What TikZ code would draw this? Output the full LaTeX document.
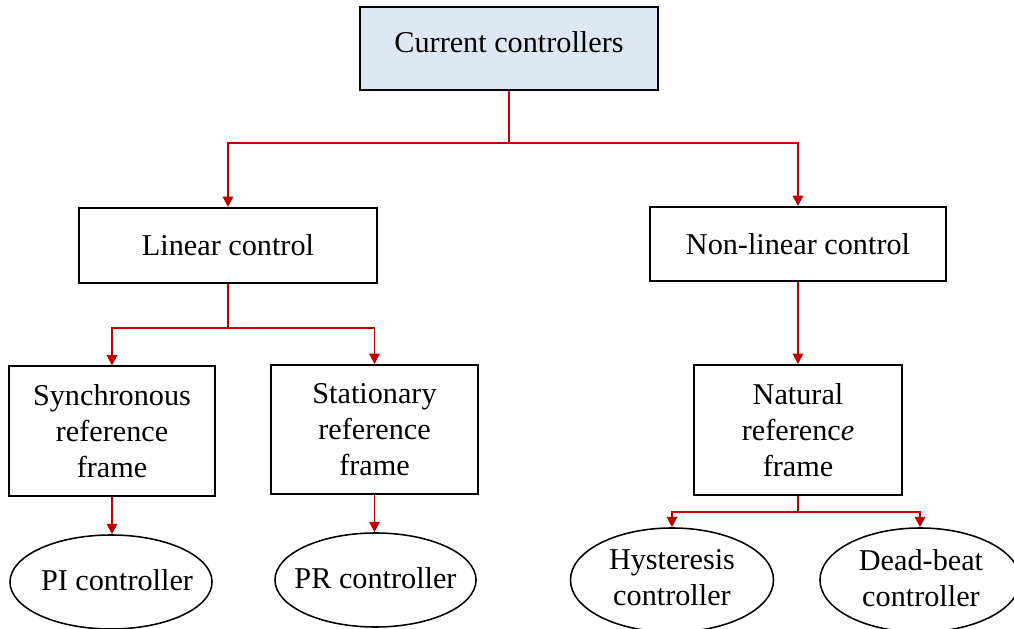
\documentclass[tikz,border=0pt]{standalone}
\usepackage{fontspec}
\setmainfont{Liberation Serif}
\usetikzlibrary{arrows.meta,shapes.geometric}
\definecolor{boxblue}{HTML}{DEE8F4}
\definecolor{linkred}{HTML}{C00000}
\tikzset{
	box/.style={draw=black, line width=1.4pt, rectangle, align=center, inner sep=0pt},
	oval/.style={draw=black, line width=1.1pt, ellipse, inner sep=0pt},
	ovaltext/.style={align=center, inner sep=0pt},
	link/.style={draw=linkred, line width=1.4pt, -{Triangle[length=0.26cm,width=0.26cm]}},
	stem/.style={draw=linkred, line width=1.4pt}
}

\begin{document}
\begin{tikzpicture}[x=0.025cm, y=-0.025cm, font=\fontsize{21.5}{25.5}\selectfont]
		%%%%% START %%%%%
		\useasboundingbox (0,0) rectangle (1014,629);
		
		% top level
		\node[box, fill=boxblue, minimum width=7.45cm, minimum height=2.075cm] (cur) at (509,48.5) {};
		\node (curtext) at (509,42) {Current controllers};
		
		% second level
		\node[box, minimum width=7.45cm, minimum height=1.875cm] (lin) at (228,245.5) {Linear control};
		\node[box, minimum width=7.4cm, minimum height=1.85cm] (nonlin) at (798,244) {Non-linear control};
		
		% third level
		\node[box, minimum width=5.125cm, minimum height=3.225cm] (sync) at (112,431) {Synchronous\\reference\\frame};
		\node[box, minimum width=5.15cm, minimum height=3.225cm] (stat) at (374.5,429.5) {Stationary\\reference\\frame};
		\node[box, minimum width=5.175cm, minimum height=3.25cm] (nat) at (798,430) {Natural\\referenc\textit{e}\\frame};
		
		% controllers
		\node[oval, minimum width=5.05cm, minimum height=2.35cm] (pi) at (111,582) {};
		\node[ovaltext] (pitext) at (117,580) {PI controller};
		\node[oval, minimum width=5.025cm, minimum height=2.35cm] (pr) at (375.5,580) {};
		\node[ovaltext] (prtext) at (375.5,578) {PR controller};
		\node[oval, minimum width=5.075cm, minimum height=2.6cm] (hys) at (672,580) {};
		\node[ovaltext] (hystext) at (672,578) {Hysteresis\\controller};
		\node[oval, minimum width=5cm, minimum height=2.6cm] (db) at (920,580) {};
		\node[ovaltext] (dbtext) at (921,578) {Dead-beat\\controller};
		
		% connectors
		\coordinate (s1) at (509,143);
		\coordinate (s2) at (228,328);
		\coordinate (s3) at (798,512);
		
		\draw[stem] (cur.south) -- (s1);
		\draw[link] (s1) -| (lin.north);
		\draw[link] (s1) -| (nonlin.north);
		
		\draw[stem] (lin.south) -- (s2);
		\draw[link] (s2) -| (sync.north);
		\draw[link] (s2) -| (stat.north);
		
		\draw[link] (nonlin.south) -- (nat.north);
		
		\draw[stem] (nat.south) -- (s3);
		\draw[link] (s3) -| (hys.north);
		\draw[link] (s3) -| (db.north);
		
		\draw[link] (sync.south) -- (sync.south |- pi.north);
		\draw[link] (stat.south) -- (stat.south |- pr.north);
		%%%%% END %%%%%
	\end{tikzpicture}
\end{document}
